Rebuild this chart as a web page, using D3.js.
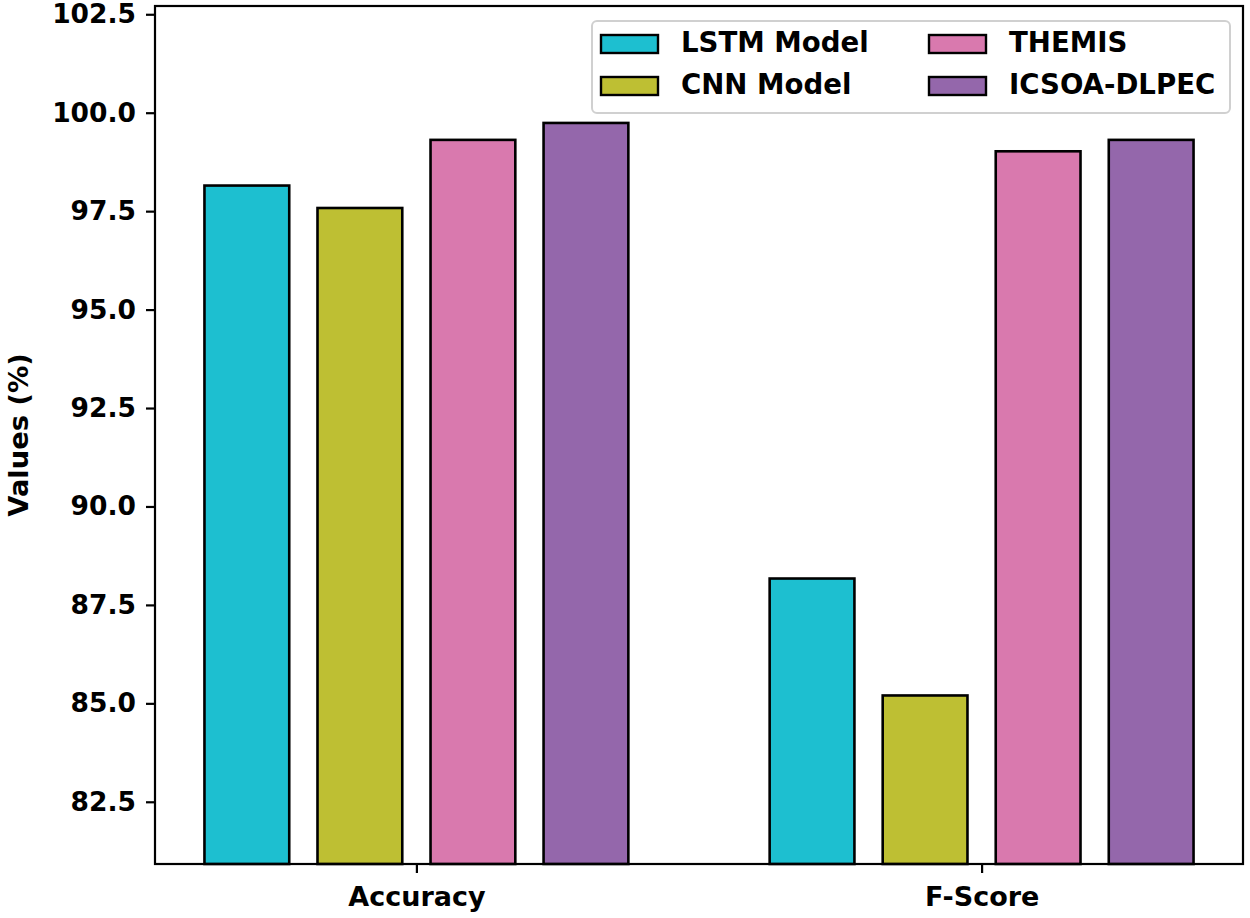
<!DOCTYPE html>
<html>
<head>
<meta charset="utf-8">
<script src="https://cdn.jsdelivr.net/npm/d3@7"></script>
<style>
  body { margin: 0; background: #fff; }
  text { font-family: "DejaVu Sans", sans-serif; font-weight: bold; }
</style>
</head>
<body>
<svg id="chart" width="1250" height="918"></svg>
<script>
const categories = ["Accuracy", "F-Score"];
const seriesNames = ["LSTM Model", "CNN Model", "THEMIS", "ICSOA-DLPEC"];
const lstmValues = [98.15, 88.17];
const cnnValues = [97.58, 85.20];
const themisValues = [99.31, 99.02];
const icsoaValues = [99.74, 99.31];
const seriesValues = [lstmValues, cnnValues, themisValues, icsoaValues];
const yTicks = [82.5, 85.0, 87.5, 90.0, 92.5, 95.0, 97.5, 100.0, 102.5];
const colors = ["#1dbfd0", "#bebf33", "#d979ae", "#9467ab"];

const svg = d3.select("#chart");
const margin = { left: 155, right: 1243, top: 6, bottom: 864 };
const fs = 26.5;

// x in matplotlib-like data units: group index, bar offset step 0.2, width 0.15
const x = d3.scaleLinear().domain([-0.4625, 1.4625]).range([margin.left, margin.right]);
const y = d3.scaleLinear().domain([80.92, 102.71]).range([margin.bottom, margin.top]);
const step = 0.2, barW = 0.15;

// bars
seriesValues.forEach((vals, si) => {
  const off = (si - 1.5) * step;
  svg.append("g").selectAll("rect").data(vals).join("rect")
    .attr("x", (d, i) => x(i + off - barW / 2))
    .attr("width", x(barW) - x(0))
    .attr("y", d => y(d))
    .attr("height", d => y(y.domain()[0]) - y(d))
    .attr("fill", colors[si])
    .attr("stroke", "#000")
    .attr("stroke-width", 2.6);
});

// frame
svg.append("rect")
  .attr("x", margin.left).attr("y", margin.top)
  .attr("width", margin.right - margin.left).attr("height", margin.bottom - margin.top)
  .attr("fill", "none").attr("stroke", "#000").attr("stroke-width", 2.2);

// y axis
const yAxis = d3.axisLeft(y).tickValues(yTicks).tickFormat(d3.format(".1f"))
  .tickSize(9).tickPadding(10);
const gy = svg.append("g").attr("transform", `translate(${margin.left},0)`).call(yAxis);
gy.select(".domain").remove();
gy.selectAll(".tick line").attr("stroke", "#000").attr("stroke-width", 2.2);
gy.selectAll(".tick text").attr("font-size", fs).attr("fill", "#000")
  .attr("font-family", "DejaVu Sans").attr("font-weight", "bold");

// x axis
const xAxis = d3.axisBottom(x).tickValues([0, 1]).tickFormat(i => categories[i])
  .tickSize(9).tickPadding(14);
const gx = svg.append("g").attr("transform", `translate(0,${margin.bottom})`).call(xAxis);
gx.select(".domain").remove();
gx.selectAll(".tick line").attr("stroke", "#000").attr("stroke-width", 2.2);
gx.selectAll(".tick text").attr("font-size", 27).attr("fill", "#000")
  .attr("font-family", "DejaVu Sans").attr("font-weight", "bold");

// y label
svg.append("text")
  .attr("transform", `translate(28,${(margin.top + margin.bottom) / 2}) rotate(-90)`)
  .attr("text-anchor", "middle")
  .attr("font-size", 27.3).attr("fill", "#000")
  .text("Values (%)");

// legend
const lg = svg.append("g");
lg.append("rect")
  .attr("x", 592).attr("y", 21).attr("width", 638).attr("height", 92)
  .attr("rx", 5).attr("ry", 5)
  .attr("fill", "#fff").attr("fill-opacity", 0.8)
  .attr("stroke", "#d0d0d0").attr("stroke-width", 2);
const colX = [601, 929];
const rowY = [35, 77];
seriesNames.forEach((name, i) => {
  const c = Math.floor(i / 2), r = i % 2;
  lg.append("rect")
    .attr("x", colX[c]).attr("y", rowY[r]).attr("width", 57).attr("height", 18)
    .attr("fill", colors[i]).attr("stroke", "#000").attr("stroke-width", 2.4);
  lg.append("text")
    .attr("x", colX[c] + 80).attr("y", rowY[r] + 17)
    .attr("font-size", 27.6).attr("fill", "#000")
    .text(name);
});
</script>
</body>
</html>
